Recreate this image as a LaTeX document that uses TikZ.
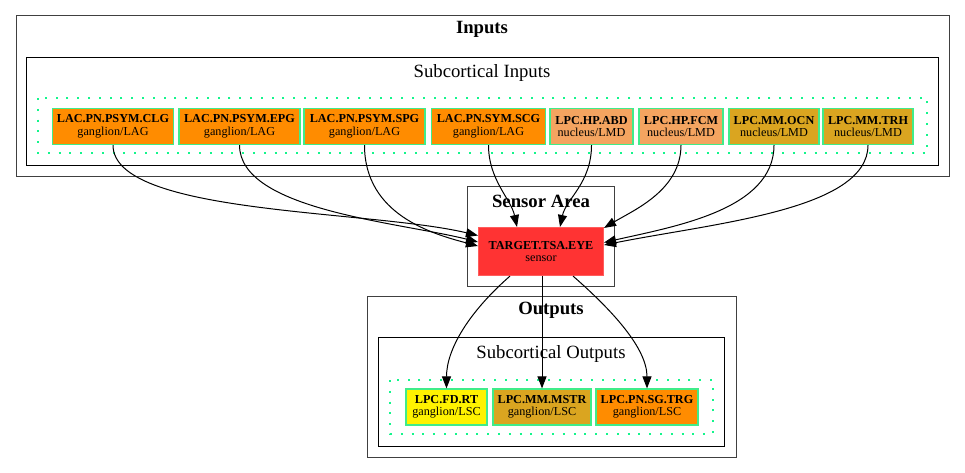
\documentclass[tikz,border=0pt]{standalone}
\usepackage{fontspec}
\setmainfont{Liberation Serif}
\usetikzlibrary{arrows.meta,calc}
\definecolor{cellrim}{RGB}{64,236,138}
\definecolor{dotrim}{RGB}{20,245,140}
\definecolor{lagfill}{RGB}{255,140,0}
\definecolor{lmdfill}{RGB}{244,164,96}
\definecolor{goldfill}{RGB}{218,165,32}
\definecolor{tsafill}{RGB}{255,51,51}
\newcommand{\cell}[2]{{\bfseries #1}\\#2}

\begin{document}
\begin{tikzpicture}[x=1pt, y=-1pt, >={Triangle[length=12pt,width=9pt]},
  cellnode/.style={draw=cellrim, line width=1.1pt, inner sep=0pt, align=center,
    minimum height=36pt, font=\fontsize{12.2}{12.5}\selectfont},
  title/.style={font=\fontsize{18.7}{20}\selectfont\bfseries, inner sep=0pt},
  subtitle/.style={font=\fontsize{18.7}{20}\selectfont, inner sep=0pt},
  outerbox/.style={draw=black!75, line width=1pt},
  innerbox/.style={draw=black, line width=0.9pt},
  dotbox/.style={draw=dotrim, line width=2pt, dash pattern=on 2pt off 8.8pt},
  link/.style={->, line width=1pt}]
  \useasboundingbox (0,0) rectangle (965,473);

  % clusters
  \draw[outerbox] (16,16) rectangle (949,176);
  \node[title] (tin) at (482,29.5) {Inputs};
  \draw[innerbox] (26,57) rectangle (938,165);
  \node[subtitle] (tsin) at (482,73.5) {Subcortical Inputs};
  \draw[dotbox] (38,98) rectangle (927,153);

  \draw[outerbox] (467,186) rectangle (614,286);
  \node[title] (tsen) at (541,201) {Sensor Area};

  \draw[outerbox] (367,296) rectangle (736,457);
  \node[title] (tout) at (551,310.5) {Outputs};
  \draw[innerbox] (378,337) rectangle (724,446);
  \node[subtitle] (tsout) at (551,354) {Subcortical Outputs};
  \draw[dotbox] (390,380) rectangle (713,434);

  % input cells
  \node[cellnode, fill=lagfill, minimum width=121pt] (clg) at (113,126.5) {\cell{LAC.PN.PSYM.CLG}{ganglion/LAG}};
  \node[cellnode, fill=lagfill, minimum width=121pt] (epg) at (239.5,126.5) {\cell{LAC.PN.PSYM.EPG}{ganglion/LAG}};
  \node[cellnode, fill=lagfill, minimum width=121pt] (spg) at (364.5,126.5) {\cell{LAC.PN.PSYM.SPG}{ganglion/LAG}};
  \node[cellnode, fill=lagfill, minimum width=114pt] (scg) at (488.5,126.5) {\cell{LAC.PN.SYM.SCG}{ganglion/LAG}};
  \node[cellnode, fill=lmdfill, minimum width=83pt] (abd) at (591.5,126.5) {\cell{LPC.HP.ABD}{nucleus/LMD}};
  \node[cellnode, fill=lmdfill, minimum width=84pt] (fcm) at (681,126.5) {\cell{LPC.HP.FCM}{nucleus/LMD}};
  \node[cellnode, fill=goldfill, minimum width=90pt] (ocn) at (774,126.5) {\cell{LPC.MM.OCN}{nucleus/LMD}};
  \node[cellnode, fill=goldfill, minimum width=90pt] (trh) at (868,126.5) {\cell{LPC.MM.TRH}{nucleus/LMD}};

  % sensor
  \node[cellnode, draw=tsafill!80!white, fill=tsafill, minimum width=125pt, minimum height=48pt] (tsa) at (541,251.5) {\cell{TARGET.TSA.EYE}{sensor}};

  % output cells
  \node[cellnode, fill=yellow, minimum width=81pt] (rt) at (446.5,407) {\cell{LPC.FD.RT}{ganglion/LSC}};
  \node[cellnode, fill=goldfill, minimum width=98pt] (mstr) at (542,407) {\cell{LPC.MM.MSTR}{ganglion/LSC}};
  \node[cellnode, fill=lagfill, minimum width=102pt] (trg) at (647,407) {\cell{LPC.PN.SG.TRG}{ganglion/LSC}};

  % inputs to sensor
  \draw[link] (clg.south) .. controls +(0,70) and +(-110,-26) .. ([yshift=16pt]tsa.west);
  \draw[link] (epg.south) .. controls +(0,65) and +(-80,-20) .. ([yshift=9.5pt]tsa.west);
  \draw[link] (spg.south) .. controls +(0,70) and +(-45,-12) .. ([yshift=5.5pt]tsa.west);
  \draw[link] (scg.south) .. controls +(0,35) and +(-6,-28) .. ([xshift=-24pt]tsa.north);
  \draw[link] (abd.south) .. controls +(0,38) and +(6,-28) .. ([xshift=19pt]tsa.north);
  \draw[link] (fcm.south) .. controls +(0,45) and +(30,-18) .. ([yshift=-1pt]tsa.north east);
  \draw[link] (ocn.south) .. controls +(0,65) and +(70,-16) .. ([yshift=9pt]tsa.east);
  \draw[link] (trh.south) .. controls +(0,65) and +(110,-22) .. ([yshift=6.5pt]tsa.east);

  % sensor to outputs
  \draw[link] ([xshift=-31pt]tsa.south) .. controls +(-40,35) and +(0,-40) .. (rt.north);
  \draw[link] ([xshift=1pt]tsa.south) -- (mstr.north);
  \draw[link] ([xshift=32pt]tsa.south) .. controls +(40,35) and +(0,-40) .. (trg.north);
\end{tikzpicture}
\end{document}
